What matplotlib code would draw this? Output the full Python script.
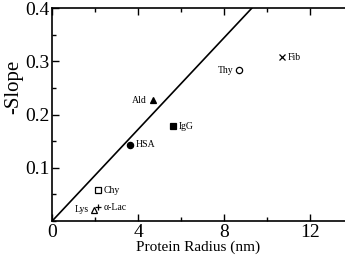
import matplotlib
matplotlib.use("Agg")
import matplotlib.pyplot as plt
from matplotlib.ticker import MultipleLocator

plt.rcParams['font.family'] = ['Liberation Serif', 'DejaVu Serif']

# proteins: radius (nm), -slope
names = ["Lys", "α-Lac", "Chy", "HSA", "Ald", "IgG", "Thy", "Fib"]
radius = [1.97, 2.15, 2.15, 3.63, 4.68, 5.64, 8.70, 10.71]
slope = [0.021, 0.026, 0.058, 0.143, 0.227, 0.178, 0.283, 0.308]
markers = ["^", "+", "s", "o", "^", "s", "o", "x"]
filled = [False, True, False, True, True, True, False, True]
label_side = ["left", "right", "right", "right", "left", "right", "left", "right"]

# fitted line
fit_x = [0, 9.3]
fit_y = [0, 0.4]

fig = plt.figure(figsize=(3.45, 2.67), dpi=100)
ax = fig.add_axes([0.151, 0.172, 0.849, 0.798])

ax.plot(fit_x, fit_y, color="black", lw=1.2)

for n, x, y, m, f, side in zip(names, radius, slope, markers, filled, label_side):
    size = 4.5
    if m in ("+", "x"):
        size = 4
    ax.plot(x, y, marker=m, linestyle="none", markersize=size,
            markerfacecolor="black" if f else "white",
            markeredgecolor="black", markeredgewidth=0.9, clip_on=False)
    if side == "right":
        ax.annotate(n, (x, y), xytext=(4, 0), textcoords="offset points",
                    ha="left", va="center", fontsize=7)
    else:
        ax.annotate(n, (x, y), xytext=(-4, 0), textcoords="offset points",
                    ha="right", va="center", fontsize=7)

ax.set_xlim(0, 13.63)
ax.set_ylim(0, 0.4)
ax.xaxis.set_major_locator(MultipleLocator(4))
ax.xaxis.set_minor_locator(MultipleLocator(2))
ax.set_yticks([0.1, 0.2, 0.3, 0.4])
ax.yaxis.set_minor_locator(MultipleLocator(0.05))
ax.set_yticklabels(["0.1", "0.2", "0.3", "0.4"])
ax.tick_params(which="both", direction="in", top=True, right=False, labelsize=14, pad=2)
ax.tick_params(which="major", length=5, width=1)
ax.tick_params(which="minor", length=3, width=1)
for s in ax.spines.values():
    s.set_linewidth(1.2)
ax.spines["right"].set_visible(False)

ax.set_xlabel("Protein Radius (nm)", fontsize=11, labelpad=0)
ax.set_ylabel("-Slope", fontsize=15)
ax.yaxis.set_label_coords(-0.1, 0.63)

fig.savefig("out.png", dpi=100)
